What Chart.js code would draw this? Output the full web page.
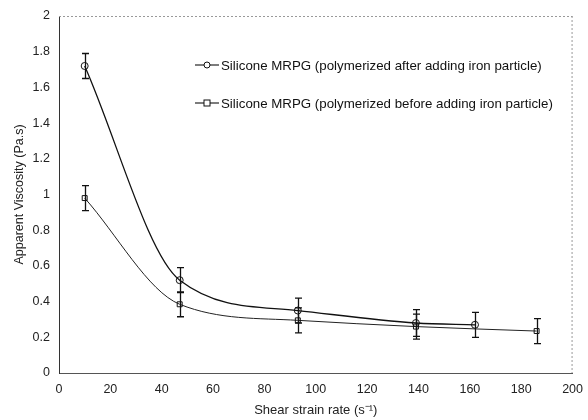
<!DOCTYPE html>
<html>
<head>
<meta charset="utf-8">
<script src="https://cdn.jsdelivr.net/npm/chart.js@4/dist/chart.umd.min.js"></script>
<style>
html,body{margin:0;padding:0;background:#fff;}
#wrap{width:588px;height:420px;}
</style>
</head>
<body>
<div id="wrap"><canvas id="c" width="588" height="420"></canvas></div>
<script>
// ---- data ----
const afterX = [10, 47, 93, 139, 162];
const afterY = [1.72, 0.52, 0.35, 0.28, 0.27];
const afterErr = [0.07, 0.07, 0.07, 0.075, 0.07];
const beforeX = [10, 47, 93, 139, 186];
const beforeY = [0.98, 0.385, 0.295, 0.26, 0.235];
const beforeErr = [0.07, 0.07, 0.07, 0.07, 0.07];
const seriesLabels = [
  'Silicone MRPG (polymerized after adding iron particle)',
  'Silicone MRPG (polymerized before adding iron particle)'
];
const xTitle = 'Shear strain rate (s\u207B\u00B9)';
const yTitle = 'Apparent Viscosity (Pa.s)';
const xMin = 0, xMax = 200, xStep = 20;
const yMin = 0, yMax = 2, yStep = 0.2;

const FONT = 'Liberation Sans, Arial, sans-serif';

function pts(xs, ys) { return xs.map((x, i) => ({x: x, y: ys[i]})); }

const errorBars = {
  id: 'errorBars',
  afterDatasetsDraw(chart) {
    const ctx = chart.ctx, xs = chart.scales.x, ys = chart.scales.y;
    ctx.save();
    ctx.strokeStyle = '#111';
    ctx.lineWidth = 1.3;
    chart.data.datasets.forEach(ds => {
      ds.data.forEach((p, i) => {
        const e = ds.errors[i];
        const px = Math.round(xs.getPixelForValue(p.x)) + 0.5;
        const top = ys.getPixelForValue(p.y + e);
        const bot = ys.getPixelForValue(p.y - e);
        ctx.beginPath();
        ctx.moveTo(px, top); ctx.lineTo(px, bot);
        ctx.moveTo(px - 3.5, top); ctx.lineTo(px + 3.5, top);
        ctx.moveTo(px - 3.5, bot); ctx.lineTo(px + 3.5, bot);
        ctx.stroke();
      });
    });
    ctx.restore();
  }
};

const frameAndLegend = {
  id: 'frameAndLegend',
  afterDraw(chart) {
    const ctx = chart.ctx, a = chart.chartArea;
    ctx.save();
    ctx.strokeStyle = '#999';
    ctx.lineWidth = 1;
    ctx.setLineDash([2, 2]);
    ctx.beginPath();
    ctx.moveTo(a.left, a.top + 0.5); ctx.lineTo(a.right, a.top + 0.5);
    ctx.moveTo(a.right - 0.5, a.top); ctx.lineTo(a.right - 0.5, a.bottom);
    ctx.stroke();
    ctx.setLineDash([]);
    // legend
    const entries = [
      {y: 65, style: 'circle'},
      {y: 103, style: 'rect'}
    ];
    ctx.font = '13.3px ' + FONT;
    ctx.textBaseline = 'middle';
    entries.forEach((en, i) => {
      const ds = chart.data.datasets[i];
      ctx.strokeStyle = '#111';
      ctx.lineWidth = 1.1;
      ctx.beginPath();
      ctx.moveTo(195, en.y); ctx.lineTo(219, en.y);
      ctx.stroke();
      ctx.fillStyle = '#fff';
      ctx.lineWidth = 1;
      if (en.style === 'circle') {
        ctx.beginPath(); ctx.arc(207, en.y, 3, 0, Math.PI * 2); ctx.fill(); ctx.stroke();
      } else {
        ctx.fillRect(204, en.y - 3, 6, 6); ctx.strokeRect(204, en.y - 3, 6, 6);
      }
      ctx.fillStyle = '#111';
      ctx.fillText(ds.label, 221, en.y + 1);
    });
    ctx.restore();
  }
};

new Chart(document.getElementById('c'), {
  type: 'scatter',
  data: {
    datasets: [
      {
        label: seriesLabels[0],
        data: pts(afterX, afterY),
        errors: afterErr,
        showLine: true,
        cubicInterpolationMode: 'monotone',
        borderColor: '#111',
        borderWidth: 1.3,
        pointStyle: 'circle',
        pointRadius: 3.5,
        pointBorderWidth: 1,
        pointBackgroundColor: 'rgba(255,255,255,0)',
        pointBorderColor: '#111'
      },
      {
        label: seriesLabels[1],
        data: pts(beforeX, beforeY),
        errors: beforeErr,
        showLine: true,
        cubicInterpolationMode: 'monotone',
        borderColor: '#222',
        borderWidth: 1,
        pointStyle: 'rect',
        pointRadius: 3.5,
        pointBorderWidth: 1,
        pointBackgroundColor: 'rgba(255,255,255,0)',
        pointBorderColor: '#111'
      }
    ]
  },
  options: {
    responsive: false,
    animation: false,
    layout: {padding: {top: 16, right: 10, left: 0, bottom: 0}},
    plugins: {legend: {display: false}, tooltip: {enabled: false}},
    scales: {
      x: {
        type: 'linear', min: xMin, max: xMax,
        ticks: {stepSize: xStep, color: '#222', font: {family: FONT, size: 12.5}, padding: 5, maxRotation: 0},
        grid: {display: false, drawOnChartArea: false, drawTicks: true, tickLength: 4, color: '#444'},
        border: {display: true, color: '#555', width: 1},
        title: {display: true, text: xTitle, color: '#222', font: {family: FONT, size: 13}, padding: {top: 0, bottom: 2}},
        afterFit(s) { s.height = 47; }
      },
      y: {
        type: 'linear', min: yMin, max: yMax,
        ticks: {stepSize: yStep, color: '#222', font: {family: FONT, size: 12.5}, padding: 4,
          callback: v => String(Number(v.toFixed(1)))},
        grid: {display: false, drawOnChartArea: false, drawTicks: true, tickLength: 5, color: '#444'},
        border: {display: true, color: '#333', width: 1},
        title: {display: true, text: yTitle, color: '#222', font: {family: FONT, size: 12.5}, padding: {top: 12, bottom: 0}},
        afterFit(s) { s.width = 59; }
      }
    }
  },
  plugins: [errorBars, frameAndLegend]
});
</script>
</body>
</html>
